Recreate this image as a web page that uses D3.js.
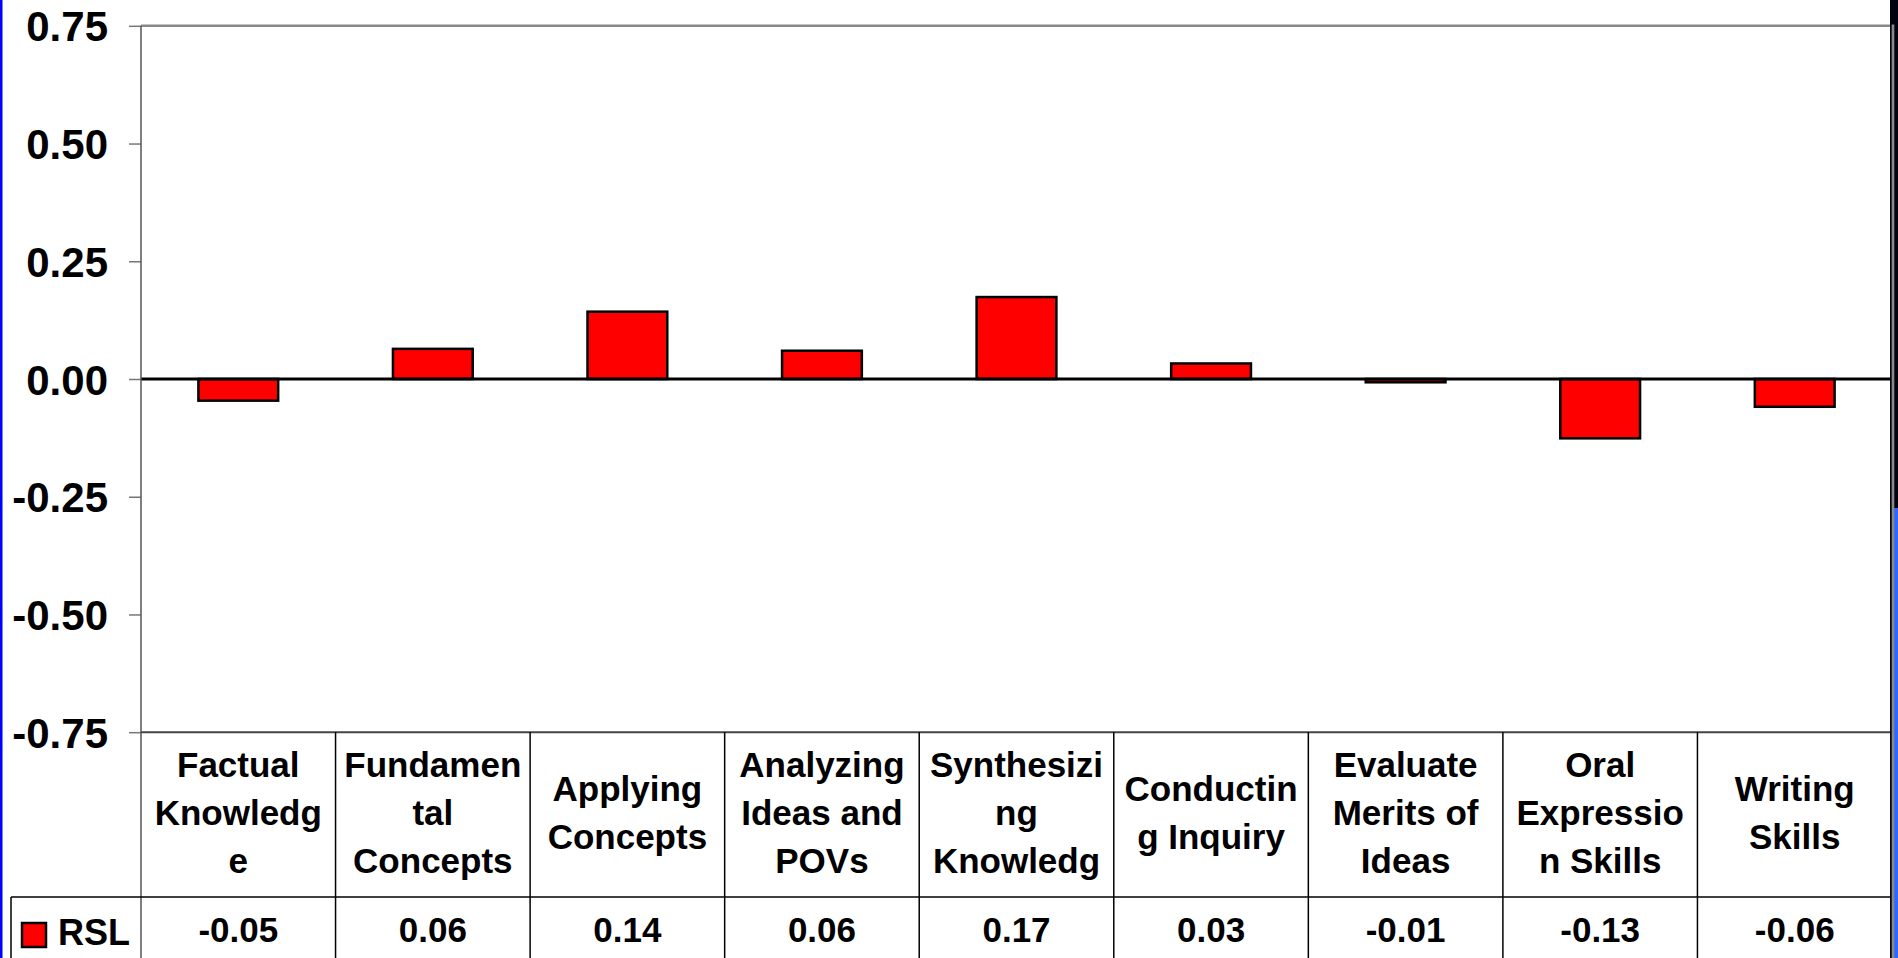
<!DOCTYPE html>
<html>
<head>
<meta charset="utf-8">
<script src="https://cdn.jsdelivr.net/npm/d3@7"></script>
<style>
  html, body { margin: 0; padding: 0; background: #ffffff; overflow: hidden; }
  svg { display: block; }
  text { font-family: "Liberation Sans", Arial, sans-serif; font-weight: bold; fill: #000; }
</style>
</head>
<body>
<script>
// ---- data ----
const categories = ["Factual Knowledge", "Fundamental Concepts", "Applying Concepts",
  "Analyzing Ideas and POVs", "Synthesizing Knowledge", "Conducting Inquiry",
  "Evaluate Merits of Ideas", "Oral Expression Skills", "Writing Skills"];
const headerLines = [
  ["Factual", "Knowledg", "e"],
  ["Fundamen", "tal", "Concepts"],
  ["Applying", "Concepts"],
  ["Analyzing", "Ideas and", "POVs"],
  ["Synthesizi", "ng", "Knowledg"],
  ["Conductin", "g Inquiry"],
  ["Evaluate", "Merits of", "Ideas"],
  ["Oral", "Expressio", "n Skills"],
  ["Writing", "Skills"]
];
const seriesName = "RSL";
const rslValues = [-0.046, 0.064, 0.143, 0.060, 0.174, 0.033, -0.007, -0.126, -0.059];
const yTicks = [-0.75, -0.50, -0.25, 0, 0.25, 0.50, 0.75];

// ---- layout ----
const W = 1898, H = 958;
const plotL = 141, plotR = 1892;
const tableTop = 732.2, headerBottom = 897;
const fmtLocale = d3.formatLocale({decimal: ".", thousands: ",", grouping: [3], currency: ["$", ""], minus: "-"});
const fmt = fmtLocale.format(".2f");

const svg = d3.select("body").append("svg").attr("width", W).attr("height", H);

const y = d3.scaleLinear().domain([-0.75, 0.75]).range([732.2, 25.8]);
const xCol = d3.scaleBand().domain(categories).range([plotL, plotR]).padding(0);
const xBar = d3.scaleBand().domain(categories).range([plotL, plotR]).paddingInner(0.59).paddingOuter(0.295);

// plot area
svg.append("rect").attr("x", plotL).attr("y", y(0.75)).attr("width", plotR - plotL)
  .attr("height", y(-0.75) - y(0.75)).attr("fill", "#fff");

// bars
svg.append("g").selectAll("rect").data(rslValues).join("rect")
  .attr("x", (d, i) => xBar(categories[i]))
  .attr("width", xBar.bandwidth())
  .attr("y", d => y(Math.max(d, 0)))
  .attr("height", d => Math.abs(y(d) - y(0)))
  .attr("fill", "#ff0000").attr("stroke", "#000").attr("stroke-width", 2.5);

// zero line
svg.append("line").attr("x1", plotL).attr("x2", 1895).attr("y1", y(0)).attr("y2", y(0))
  .attr("stroke", "#000").attr("stroke-width", 3);

// y axis
const yAxis = svg.append("g").attr("transform", `translate(${plotL},0)`)
  .call(d3.axisLeft(y).tickValues(yTicks).tickSize(12).tickPadding(21).tickFormat(fmt));
yAxis.select(".domain").remove();
yAxis.selectAll(".tick line").attr("stroke", "#777").attr("stroke-width", 1.5);
yAxis.selectAll(".tick text").attr("font-size", 42).attr("dy", "0.36em")
  .attr("font-family", "'Liberation Sans', Arial, sans-serif").attr("font-weight", "bold").attr("fill", "#000");

// plot frame (top/right gray)
svg.append("line").attr("x1", plotL).attr("x2", 1894).attr("y1", y(0.75)).attr("y2", y(0.75))
  .attr("stroke", "#888").attr("stroke-width", 2.5);
svg.append("line").attr("x1", plotL).attr("x2", plotL).attr("y1", y(0.75)).attr("y2", H)
  .attr("stroke", "#555").attr("stroke-width", 1.5);

// data table
const tbl = svg.append("g");
tbl.append("line").attr("x1", plotL).attr("x2", plotR).attr("y1", tableTop).attr("y2", tableTop)
  .attr("stroke", "#444").attr("stroke-width", 2);
tbl.append("line").attr("x1", 11).attr("x2", plotR).attr("y1", headerBottom).attr("y2", headerBottom)
  .attr("stroke", "#000").attr("stroke-width", 1.5);
tbl.append("line").attr("x1", 11).attr("x2", 11).attr("y1", headerBottom).attr("y2", H)
  .attr("stroke", "#000").attr("stroke-width", 1.5);
tbl.selectAll("line.col").data(categories.slice(1)).join("line").attr("class", "col")
  .attr("x1", d => xCol(d)).attr("x2", d => xCol(d)).attr("y1", tableTop).attr("y2", H)
  .attr("stroke", "#000").attr("stroke-width", 1.5);

// header labels
const lineH = 48, headCenter = 812;
categories.forEach((c, i) => {
  const lines = headerLines[i];
  const cx = xCol(c) + xCol.bandwidth() / 2;
  const t = tbl.append("text").attr("text-anchor", "middle").attr("font-size", 35);
  lines.forEach((ln, k) => {
    const cy = headCenter + (k - (lines.length - 1) / 2) * lineH;
    t.append("tspan").attr("x", cx).attr("y", cy + 12.5).text(ln);
  });
});

// value row
tbl.selectAll("text.val").data(rslValues).join("text").attr("class", "val")
  .attr("x", (d, i) => xCol(categories[i]) + xCol.bandwidth() / 2)
  .attr("y", 942).attr("text-anchor", "middle").attr("font-size", 35)
  .text(d => fmt(d));

// legend key
tbl.append("rect").attr("x", 22).attr("y", 923).attr("width", 24).attr("height", 24)
  .attr("fill", "#ff0000").attr("stroke", "#000").attr("stroke-width", 2.5);
tbl.append("text").attr("x", 58).attr("y", 945).attr("font-size", 36).text(seriesName);

// slide edges
svg.append("rect").attr("x", 0).attr("y", 0).attr("width", 2.5).attr("height", H).attr("fill", "#0000ff");
svg.append("rect").attr("x", 1890).attr("y", 0).attr("width", 8).attr("height", 508).attr("fill", "#02030f");
svg.append("rect").attr("x", 1890).attr("y", 508).attr("width", 2).attr("height", H - 508).attr("fill", "#02030f");
svg.append("rect").attr("x", 1894).attr("y", 508).attr("width", 4).attr("height", H - 508).attr("fill", "#3366ff");
svg.append("rect").attr("x", 1891.7).attr("y", 24.5).attr("width", 2.6).attr("height", H - 24.5).attr("fill", "#888");
</script>
</body>
</html>
